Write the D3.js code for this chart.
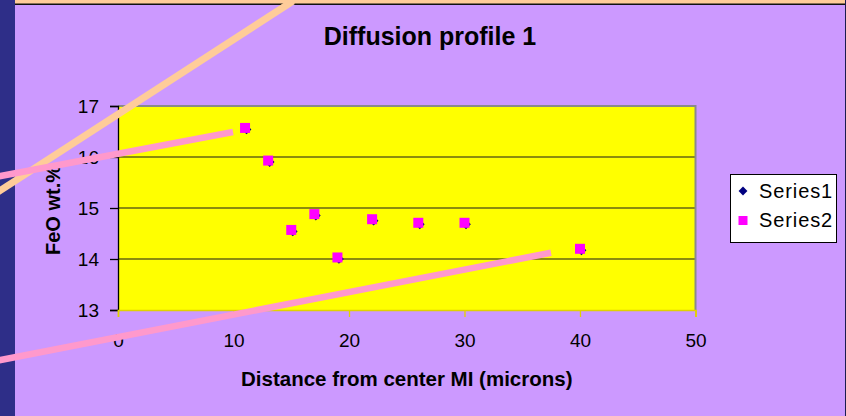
<!DOCTYPE html>
<html>
<head>
<meta charset="utf-8">
<script src="https://cdn.jsdelivr.net/npm/d3@7/dist/d3.min.js"></script>
<style>
  html, body { margin: 0; padding: 0; background: #CC99FF; }
  svg { display: block; font-family: "Liberation Sans", Arial, sans-serif; }
</style>
</head>
<body>
<svg id="chart" width="846" height="416"></svg>
<script>
// Measured FeO content versus distance from the melt inclusion centre
const distance = [11, 13, 15, 17, 19, 22, 26, 30, 40];
const series1 = [16.57, 15.93, 14.57, 14.88, 14.03, 14.78, 14.71, 14.71, 14.20];
const series2 = [16.57, 15.93, 14.57, 14.88, 14.03, 14.78, 14.71, 14.71, 14.20];
const seriesNames = ["Series1", "Series2"];
const xTicks = [0, 10, 20, 30, 40, 50];
const yTicks = [13, 14, 15, 16, 17];

const W = 846, H = 416;
const plot = { left: 118, right: 695.5, top: 106, bottom: 310 };
const font = "'Liberation Sans', Arial, sans-serif";

const svg = d3.select("#chart");

// Slide background
svg.append("rect").attr("width", W).attr("height", H).attr("fill", "#CC99FF");
svg.append("rect").attr("x", 0).attr("y", 0).attr("width", 15).attr("height", H).attr("fill", "#2E2E88");
svg.append("rect").attr("x", 845).attr("y", 0).attr("width", 1).attr("height", H).attr("fill", "#1C1C50");
svg.append("rect").attr("x", 15).attr("y", 0).attr("width", 830).attr("height", 4).attr("fill", "#FFCC99");
svg.append("line").attr("x1", 15).attr("x2", 845).attr("y1", 4.2).attr("y2", 4.2)
  .attr("stroke", "#111").attr("stroke-width", 1.6);

const x = d3.scaleLinear().domain([0, 50]).range([plot.left, plot.right]);
const y = d3.scaleLinear().domain([13, 17]).range([plot.bottom, plot.top]);

// Plot area
svg.append("rect")
  .attr("x", plot.left).attr("y", plot.top)
  .attr("width", plot.right - plot.left).attr("height", plot.bottom - plot.top)
  .attr("fill", "#FFFF00");

// Horizontal gridlines
svg.append("g").selectAll("line")
  .data(yTicks.filter(v => v > 13 && v < 17))
  .join("line")
  .attr("x1", plot.left).attr("x2", plot.right)
  .attr("y1", d => y(d)).attr("y2", d => y(d))
  .attr("stroke", "#1a1a1a").attr("stroke-width", 1.2);

// Plot frame (top and right)
svg.append("path")
  .attr("d", `M${plot.left},${plot.top}H${plot.right}V${plot.bottom}`)
  .attr("fill", "none").attr("stroke", "#8a8a8a").attr("stroke-width", 2);

// Y axis
const yAxis = svg.append("g")
  .attr("transform", `translate(${plot.left},0)`)
  .call(d3.axisLeft(y).tickValues(yTicks).tickFormat(d3.format("d")).tickSize(8).tickPadding(11));
yAxis.select(".domain").attr("stroke", "#000").attr("stroke-width", 1.3);
yAxis.selectAll(".tick line").attr("stroke", "#000").attr("stroke-width", 1.3);
yAxis.selectAll(".tick text")
  .attr("font-family", font).attr("font-size", 19).attr("fill", "#000");

// X axis
const xAxis = svg.append("g")
  .attr("transform", `translate(0,${plot.bottom})`)
  .call(d3.axisBottom(x).tickValues(xTicks).tickFormat(d3.format("d")).tickSize(7).tickPadding(17));
xAxis.select(".domain").attr("stroke", "#E0D200").attr("stroke-width", 1.6);
xAxis.selectAll(".tick line").attr("stroke", "#E0D200").attr("stroke-width", 1.3);
xAxis.selectAll(".tick text")
  .attr("font-family", font).attr("font-size", 19).attr("fill", "#000");

// Data markers: diamonds for Series1 beneath squares for Series2
const sq = 10;
svg.append("g").selectAll("path")
  .data(distance.map((d, i) => [d, series1[i]]))
  .join("path")
  .attr("d", d3.symbol(d3.symbolDiamond2, 60)())
  .attr("transform", d => `translate(${x(d[0]) + 1.5},${y(d[1]) + 1.5})`)
  .attr("fill", "#000080");
svg.append("g").selectAll("rect")
  .data(distance.map((d, i) => [d, series2[i]]))
  .join("rect")
  .attr("x", d => x(d[0]) - sq / 2).attr("y", d => y(d[1]) - sq / 2)
  .attr("width", sq).attr("height", sq)
  .attr("fill", "#FF00FF");

// Titles
svg.append("text")
  .attr("x", 430).attr("y", 45).attr("text-anchor", "middle")
  .attr("font-family", font).attr("font-weight", "bold").attr("font-size", 25)
  .text("Diffusion profile 1");
svg.append("text")
  .attr("x", (plot.left + plot.right) / 2).attr("y", 386).attr("text-anchor", "middle")
  .attr("font-family", font).attr("font-weight", "bold").attr("font-size", 20.5)
  .text("Distance from center MI (microns)");
svg.append("text")
  .attr("transform", `translate(60,${(plot.top + plot.bottom) / 2 + 2}) rotate(-90)`)
  .attr("text-anchor", "middle")
  .attr("font-family", font).attr("font-weight", "bold").attr("font-size", 20)
  .text("FeO wt.%");

// Legend
const legend = svg.append("g");
legend.append("rect")
  .attr("x", 730.5).attr("y", 174.5).attr("width", 106).attr("height", 68)
  .attr("fill", "#fff").attr("stroke", "#000").attr("stroke-width", 1);
const legendRows = legend.selectAll("g.row").data(seriesNames).join("g")
  .attr("class", "row")
  .attr("transform", (d, i) => `translate(743,${191 + i * 29.5})`);
legendRows.filter((d, i) => i === 0).append("path")
  .attr("d", d3.symbol(d3.symbolDiamond2, 50)())
  .attr("fill", "#000080");
legendRows.filter((d, i) => i === 1).append("rect")
  .attr("x", -4.5).attr("y", -4.5).attr("width", 9).attr("height", 9)
  .attr("fill", "#FF00FF");
legendRows.append("text")
  .attr("x", 16).attr("y", 6.5)
  .attr("font-family", font).attr("font-size", 20).attr("letter-spacing", 0.9)
  .text(d => d);

// Decorative slide strokes drawn across the chart
const strokes = [
  { x1: 293, y1: 1, x2: -2, y2: 192, color: "#FFCC99", width: 7 },
  { x1: 233, y1: 132, x2: -2, y2: 176.5, color: "#FF99CC", width: 6.5 },
  { x1: 551, y1: 252.7, x2: -2, y2: 360.5, color: "#FF99CC", width: 6.5 }
];
svg.append("g").selectAll("line").data(strokes).join("line")
  .attr("x1", d => d.x1).attr("y1", d => d.y1)
  .attr("x2", d => d.x2).attr("y2", d => d.y2)
  .attr("stroke", d => d.color).attr("stroke-width", d => d.width);
</script>
</body>
</html>
